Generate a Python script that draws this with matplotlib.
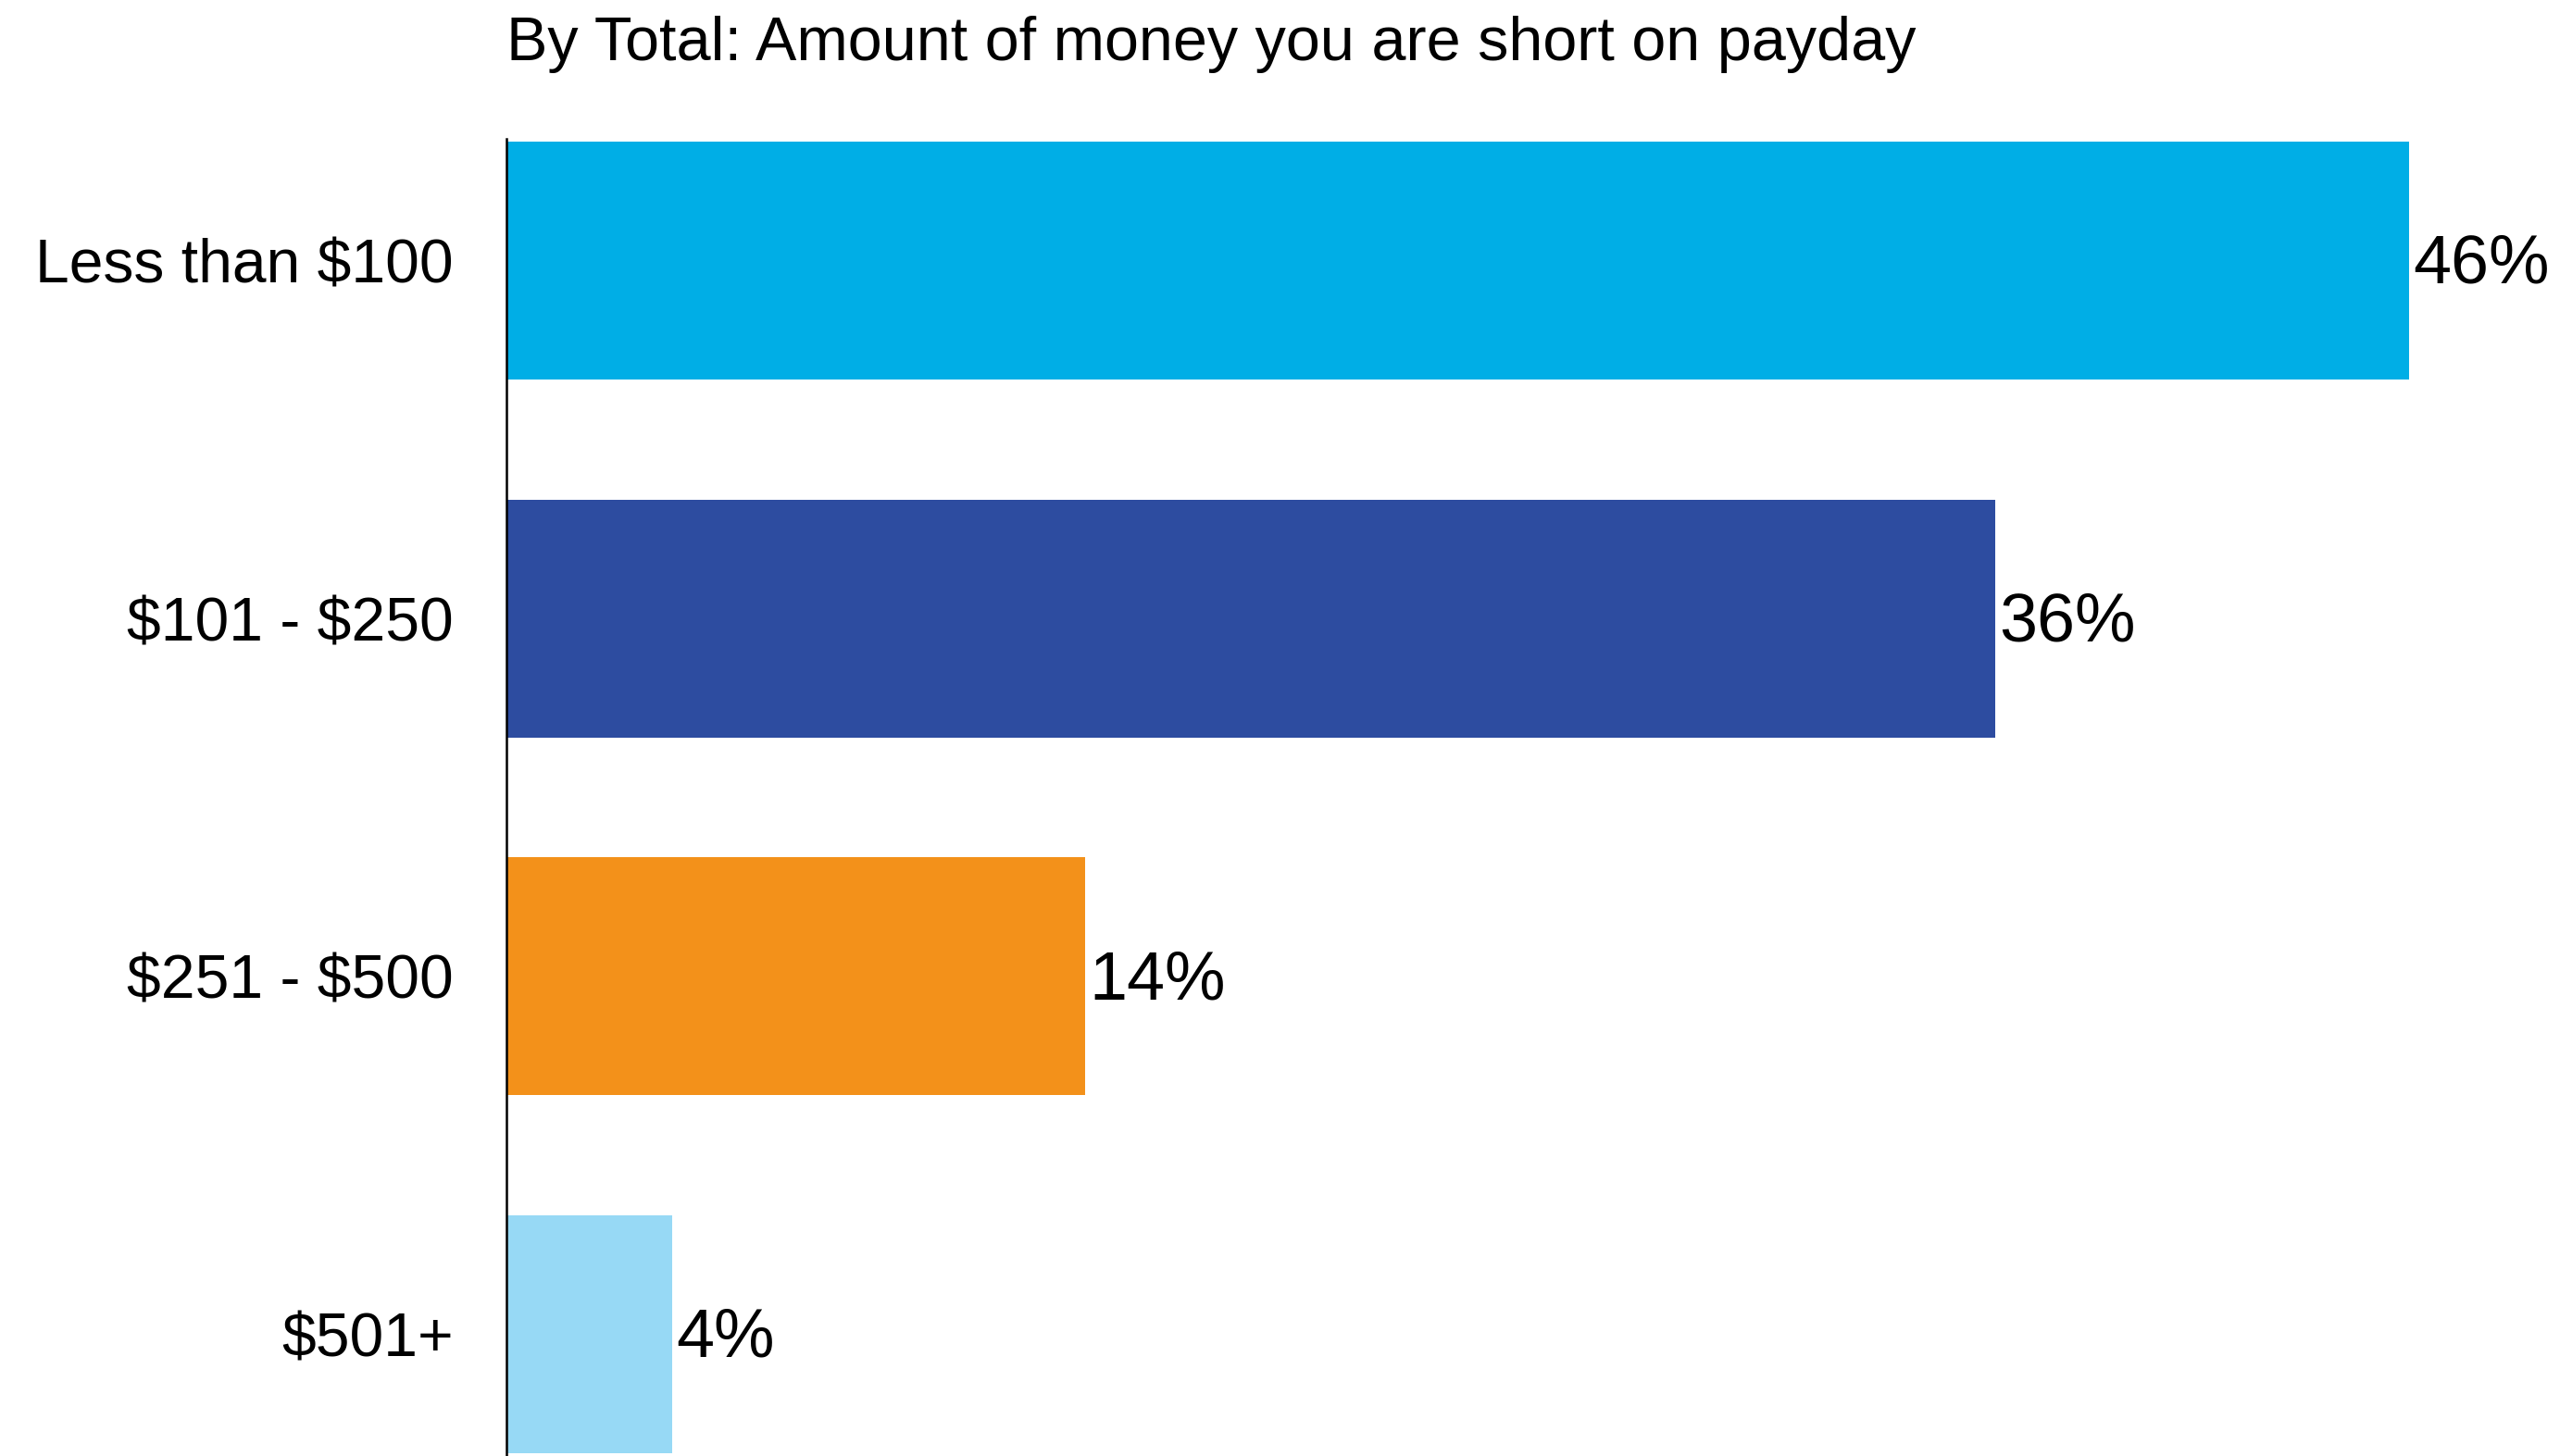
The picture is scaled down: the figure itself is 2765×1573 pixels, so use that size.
import matplotlib
matplotlib.use("Agg")
import matplotlib.pyplot as plt

categories = ["Less than $100", "$101 - $250", "$251 - $500", "$501+"]
values = [46, 36, 14, 4]
colors = ["#00AEE6", "#2D4CA0", "#F3911A", "#97D9F5"]
title = "By Total: Amount of money you are short on payday"

plt.rcParams['font.family'] = ['Liberation Sans', 'DejaVu Sans']
plt.rcParams['text.parse_math'] = False

W, H = 2765, 1573
fig = plt.figure(figsize=(W / 100, H / 100), dpi=100)
left_px, top_px = 547, 150
ax = fig.add_axes([left_px / W, 0, 1 - left_px / W, 1 - top_px / H])

y = list(range(len(categories)))
ax.barh(y, values, height=0.665, color=colors)
ax.set_xlim(0, 46 * (W - left_px) / (2602 - left_px))
ax.set_ylim(3.34, -0.34)
ax.set_yticks(y)
ax.set_yticklabels(categories, fontsize=47.5)
ax.tick_params(axis='y', length=0, pad=41)
ax.set_xticks([])
for s in ['top', 'right', 'bottom']:
    ax.spines[s].set_visible(False)
ax.spines['left'].set_linewidth(1.8)
ax.spines['left'].set_color('black')

for yi, v in zip(y, values):
    ax.annotate(f"{v}%", (v, yi), xytext=(3, -3.5), textcoords='offset points',
                va='center', ha='left', fontsize=53)

t = fig.text(left_px / W, 1 - 65 / H, title, fontsize=48, ha='left', va='baseline')
fig.canvas.draw()
w = t.get_window_extent().width
t.set_fontsize(48 * 1522 / w)

fig.savefig("out.png", dpi=100)
